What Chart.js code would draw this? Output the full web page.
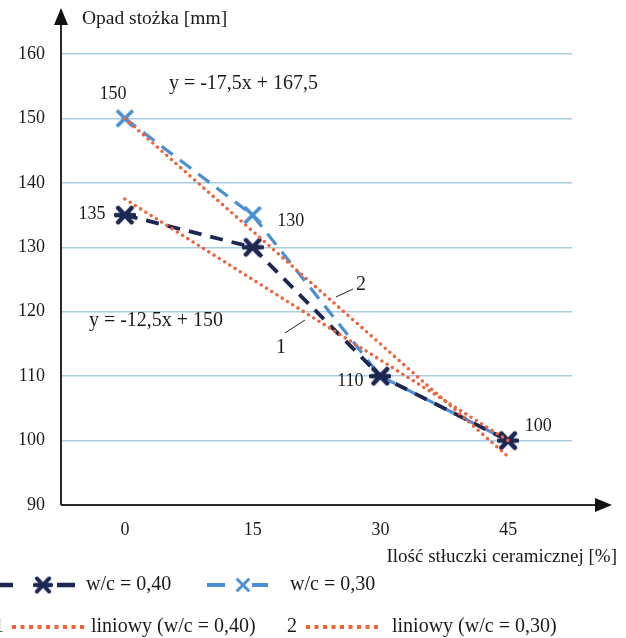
<!DOCTYPE html>
<html><head><meta charset="utf-8">
<script src="https://cdn.jsdelivr.net/npm/chart.js@4/dist/chart.umd.min.js"></script>
<style>html,body{margin:0;padding:0;background:#fff}#wrap{width:626px;height:638px;position:relative}</style>
</head><body><div id="wrap"><canvas id="c" width="626" height="638"></canvas></div>
<script>
const categories = ['0', '15', '30', '45'];
const wc040 = [135, 130, 110, 100];
const wc030 = [150, 135, 110, 100];
const trend040 = [137.5, 125, 112.5, 100];
const trend030 = [150, 132.5, 115, 97.5];
const yMin = 90, yMax = 160, yStep = 10;
const seriesNames = ['w/c = 0,40', 'w/c = 0,30', 'liniowy (w/c = 0,40)', 'liniowy (w/c = 0,30)'];
const eq040 = 'y = -12,5x + 150';
const eq030 = 'y = -17,5x + 167,5';
const yTitle = 'Opad stożka [mm]';
const xTitle = 'Ilość stłuczki ceramicznej [%]';

const FONT = '"Liberation Serif", "Times New Roman", serif';
const FS = 18;
const DARK = '#1c2753', BLUE = '#4a8fd4', RED = '#f0623a', TXT = '#1a1a1a';

function makeStar(color, size, lw) {
  const c = document.createElement('canvas');
  c.width = size; c.height = size;
  const g = c.getContext('2d');
  const m = size / 2, r = size / 2 - 2;
  g.strokeStyle = color; g.lineWidth = lw; g.lineCap = 'round';
  g.beginPath();
  g.moveTo(m - r * 0.75, m - r * 0.8); g.lineTo(m + r * 0.75, m + r * 0.8);
  g.moveTo(m + r * 0.75, m - r * 0.8); g.lineTo(m - r * 0.75, m + r * 0.8);
  g.moveTo(m - r, m); g.lineTo(m + r, m);
  g.stroke();
  return c;
}
function makeX(color, size, lw) {
  const c = document.createElement('canvas');
  c.width = size; c.height = size;
  const g = c.getContext('2d');
  const m = size / 2, r = size / 2 - 2;
  g.strokeStyle = color; g.lineWidth = lw; g.lineCap = 'butt';
  g.beginPath();
  g.moveTo(m - r, m - r); g.lineTo(m + r, m + r);
  g.moveTo(m + r, m - r); g.lineTo(m - r, m + r);
  g.stroke();
  return c;
}
const starImg = makeStar(DARK, 22, 4.5);
const xImg = makeX(BLUE, 20, 3.8);

const overlay = {
  id: 'overlay',
  afterDraw(chart) {
    const ctx = chart.ctx, xs = chart.scales.x, ys = chart.scales.y, ca = chart.chartArea;
    ctx.save();
    ctx.strokeStyle = '#2a2a2a'; ctx.fillStyle = '#111'; ctx.lineWidth = 2;
    ctx.beginPath(); ctx.moveTo(ca.left, ca.bottom); ctx.lineTo(ca.left, 22); ctx.stroke();
    ctx.beginPath(); ctx.moveTo(ca.left - 7, 25); ctx.lineTo(ca.left, 8); ctx.lineTo(ca.left + 7, 25); ctx.closePath(); ctx.fill();
    ctx.beginPath(); ctx.moveTo(ca.left, ca.bottom); ctx.lineTo(598, ca.bottom); ctx.stroke();
    ctx.beginPath(); ctx.moveTo(595, ca.bottom - 7); ctx.lineTo(612, ca.bottom); ctx.lineTo(595, ca.bottom + 7); ctx.closePath(); ctx.fill();
    ctx.fillStyle = TXT; ctx.textBaseline = 'middle';
    ctx.font = '19.5px ' + FONT;
    ctx.textAlign = 'left'; ctx.fillText(yTitle, 82, 19);
    ctx.font = '19px ' + FONT;
    ctx.textAlign = 'right'; ctx.fillText(xTitle, 617, 557);
    ctx.font = FS + 'px ' + FONT;
    const specs = [
      {ds: 1, i: 0, dx: -12, dy: -24, v: wc030[0]},
      {ds: 0, i: 0, dx: -33, dy: -1, v: wc040[0]},
      {ds: 0, i: 1, dx: 38, dy: -26, v: wc040[1]},
      {ds: 0, i: 2, dx: -30, dy: 5, v: wc040[2]},
      {ds: 0, i: 3, dx: 30, dy: -14, v: wc040[3]}
    ];
    ctx.textAlign = 'center';
    specs.forEach(s => {
      const p = chart.getDatasetMeta(s.ds).data[s.i];
      ctx.fillText(String(s.v), p.x + s.dx, p.y + s.dy);
    });
    ctx.font = '20px ' + FONT;
    ctx.textAlign = 'left';
    ctx.fillText(eq030, xs.getPixelForValue(0) + 44, ys.getPixelForValue(155.4));
    ctx.fillText(eq040, xs.getPixelForValue(0) - 36, ys.getPixelForValue(118.6));
    ctx.strokeStyle = '#222'; ctx.lineWidth = 1;
    ctx.beginPath(); ctx.moveTo(285, 333); ctx.lineTo(305, 320); ctx.stroke();
    ctx.beginPath(); ctx.moveTo(336, 297); ctx.lineTo(353, 289); ctx.stroke();
    ctx.textAlign = 'center';
    ctx.fillText('1', 281, 348);
    ctx.fillText('2', 361, 285);
    // legend
    const dashSeg = (x1, x2, y, color, w) => { ctx.strokeStyle = color; ctx.lineWidth = w; ctx.beginPath(); ctx.moveTo(x1, y); ctx.lineTo(x2, y); ctx.stroke(); };
    const dots = (x1, x2, y) => { ctx.fillStyle = RED; for (let x = x1; x <= x2; x += 8.5) { ctx.fillRect(x - 2, y - 2, 4, 4); } };
    const y1 = 585;
    dashSeg(0, 13, y1, DARK, 4.5); dashSeg(57, 75, y1, DARK, 4.5);
    ctx.drawImage(starImg, 43 - 10, y1 - 10, 20, 20);
    dashSeg(207, 225, y1, BLUE, 4); dashSeg(252, 268, y1, BLUE, 4);
    ctx.drawImage(xImg, 243 - 8, y1 - 8, 16, 16);
    ctx.fillStyle = TXT; ctx.textAlign = 'left';
    ctx.fillText(seriesNames[0], 86, y1);
    ctx.fillText(seriesNames[1], 290, y1);
    const y2 = 627;
    ctx.fillText('1', -6, y2);
    dots(14, 83, y2);
    ctx.fillStyle = TXT; ctx.fillText(seriesNames[2], 91, y2);
    ctx.fillText('2', 287, y2);
    dots(308, 377, y2);
    ctx.fillStyle = TXT; ctx.fillText(seriesNames[3], 392, y2);
    ctx.restore();
  }
};

new Chart(document.getElementById('c'), {
  type: 'line',
  data: {
    labels: categories,
    datasets: [
      {label: seriesNames[0], data: wc040, borderColor: DARK, backgroundColor: DARK, borderWidth: 3.8, borderDash: [13, 9],
       pointStyle: starImg, pointRadius: 10, order: 2, tension: 0},
      {label: seriesNames[1], data: wc030, borderColor: BLUE, backgroundColor: BLUE, borderWidth: 3.2, borderDash: [14, 9],
       pointStyle: xImg, pointRadius: 9, order: 3, tension: 0},
      {label: seriesNames[2], data: trend040, borderColor: RED, borderWidth: 3.6, borderDash: [0, 6.2], borderCapStyle: 'round',
       pointRadius: 0, order: 1, tension: 0},
      {label: seriesNames[3], data: trend030, borderColor: RED, borderWidth: 3.6, borderDash: [0, 6.2], borderCapStyle: 'round',
       pointRadius: 0, order: 0, tension: 0}
    ]
  },
  options: {
    responsive: false, animation: false, devicePixelRatio: 1,
    layout: {padding: {left: 0, top: 54, right: 54, bottom: 0}},
    plugins: {legend: {display: false}, tooltip: {enabled: false}},
    scales: {
      x: {
        type: 'category', offset: true,
        grid: {display: false, drawTicks: false}, border: {display: false},
        ticks: {font: {family: FONT, size: FS}, color: TXT, padding: 14},
        afterFit(s) { s.height = 133; }
      },
      y: {
        min: yMin, max: yMax,
        grid: {color: '#a7cde0', lineWidth: 1.5, drawTicks: false}, border: {display: false},
        ticks: {stepSize: yStep, font: {family: FONT, size: FS}, color: TXT, padding: 16},
        afterFit(s) { s.width = 61; }
      }
    }
  },
  plugins: [overlay]
});
</script></body></html>
